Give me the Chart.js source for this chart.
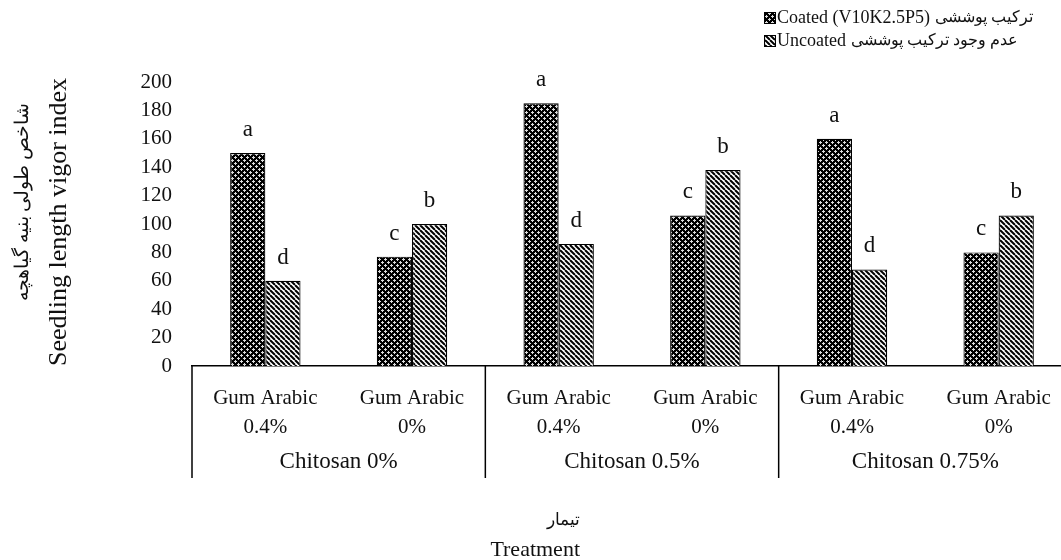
<!DOCTYPE html>
<html>
<head>
    <meta charset="utf-8">
    <title>Seedling length vigor index</title>
    <script src="https://cdn.jsdelivr.net/npm/chart.js"></script>
    <style>
        html, body {
            margin: 0;
            padding: 0;
            background: #fff;
            overflow: hidden;
        }
        .chart-container {
            position: relative;
            width: 1080px;
            height: 560px;
        }
    </style>
</head>
<body>
    <div class="chart-container">
        <canvas id="vigorChart"></canvas>
    </div>

    <script>
        // data
        const categories = [
            ['Gum Arabic', '0.4%'], ['Gum Arabic', '0%'],
            ['Gum Arabic', '0.4%'], ['Gum Arabic', '0%'],
            ['Gum Arabic', '0.4%'], ['Gum Arabic', '0%']
        ];
        const groups = ['Chitosan 0%', 'Chitosan 0.5%', 'Chitosan 0.75%'];
        const coatedValues = [150, 77, 185, 106, 160, 80];
        const uncoatedValues = [60, 100, 86, 138, 68, 106];
        const coatedLetters = ['a', 'c', 'a', 'c', 'a', 'c'];
        const uncoatedLetters = ['d', 'b', 'd', 'b', 'd', 'b'];
        const yMin = 0, yMax = 200, yStep = 20;

        const coatedLabel = ['Coated (V10K2.5P5)', 'ترکیب پوششی'];
        const uncoatedLabel = ['Uncoated', 'عدم وجود ترکیب پوششی'];
        const yTitle = ['شاخص طولی بنیه گیاهچه', 'Seedling length vigor index'];
        const xTitle = ['تیمار', 'Treatment'];

        const FONT = '"Liberation Serif", "Times New Roman", serif';
        const INK = '#111';

        // fill patterns
        function dotPattern() {
            const c = document.createElement('canvas');
            c.width = 6; c.height = 6;
            const g = c.getContext('2d');
            g.fillStyle = '#000';
            g.fillRect(0, 0, 6, 6);
            g.fillStyle = '#ddd';
            [[1, 1], [4, 4]].forEach(([cx, cy]) => {
                g.fillRect(cx - 1, cy, 3, 1);
                g.fillRect(cx, cy - 1, 1, 3);
            });
            return g.createPattern(c, 'repeat');
        }
        function stripePattern() {
            const c = document.createElement('canvas');
            c.width = 5; c.height = 5;
            const g = c.getContext('2d');
            g.fillStyle = '#fff';
            g.fillRect(0, 0, 5, 5);
            g.strokeStyle = '#000';
            g.lineWidth = 2;
            [-5, 0, 5].forEach(o => {
                g.beginPath();
                g.moveTo(o, 0);
                g.lineTo(o + 5, 5);
                g.stroke();
            });
            return g.createPattern(c, 'repeat');
        }
        const coatedFill = dotPattern();
        const uncoatedFill = stripePattern();

        // letters, group axis, titles, legend
        const decorPlugin = {
            id: 'decor',
            afterDatasetsDraw(chart) {
                const { ctx, chartArea, scales: { x } } = chart;
                ctx.save();
                ctx.fillStyle = INK;

                // significance letters
                ctx.font = '23px ' + FONT;
                ctx.textAlign = 'center';
                ctx.textBaseline = 'alphabetic';
                [coatedLetters, uncoatedLetters].forEach((letters, di) => {
                    chart.getDatasetMeta(di).data.forEach((bar, i) => {
                        ctx.fillText(letters[i], bar.x, bar.y - 17);
                    });
                });

                // group separators
                const px = i => x.getPixelForValue(i);
                const step = px(1) - px(0);
                ctx.strokeStyle = '#000';
                ctx.lineWidth = 1.5;
                for (let g = 0; g <= groups.length; g++) {
                    const bx = px(g * 2) - step / 2;
                    ctx.beginPath();
                    ctx.moveTo(bx, chartArea.bottom);
                    ctx.lineTo(bx, 478);
                    ctx.stroke();
                }

                // group labels
                ctx.font = '23px ' + FONT;
                ctx.textBaseline = 'middle';
                groups.forEach((name, g) => {
                    ctx.fillText(name, (px(g * 2) + px(g * 2 + 1)) / 2, 462);
                });

                // x title
                ctx.textAlign = 'right';
                ctx.font = '17px ' + FONT;
                ctx.fillText(xTitle[0], 580, 521);
                ctx.font = '22px ' + FONT;
                ctx.fillText(xTitle[1], 580, 550);

                // y title
                ctx.textAlign = 'center';
                ctx.font = '19px ' + FONT;
                ctx.save();
                ctx.translate(23, 202);
                ctx.rotate(-Math.PI / 2);
                ctx.fillText(yTitle[0], 0, 0);
                ctx.restore();
                ctx.font = '26px ' + FONT;
                ctx.save();
                ctx.translate(59, 222);
                ctx.rotate(-Math.PI / 2);
                ctx.fillText(yTitle[1], 0, 0);
                ctx.restore();

                // legend
                const rows = [[coatedFill, coatedLabel, 18], [uncoatedFill, uncoatedLabel, 41]];
                ctx.textAlign = 'left';
                rows.forEach(([fill, label, ry]) => {
                    ctx.fillStyle = fill;
                    ctx.fillRect(764, ry - 6, 12, 12);
                    ctx.strokeStyle = '#000';
                    ctx.lineWidth = 1;
                    ctx.strokeRect(764.5, ry - 5.5, 11, 11);
                    ctx.fillStyle = INK;
                    ctx.font = '18px ' + FONT;
                    ctx.fillText(label[0], 777, ry);
                    const w = ctx.measureText(label[0]).width;
                    ctx.font = '15.5px ' + FONT;
                    ctx.fillText(label[1], 777 + w + 5, ry);
                });

                ctx.restore();
            }
        };

        const ctx = document.getElementById('vigorChart').getContext('2d');
        new Chart(ctx, {
            type: 'bar',
            data: {
                labels: categories,
                datasets: [{
                    label: coatedLabel.join(' '),
                    data: coatedValues,
                    backgroundColor: coatedFill,
                    borderColor: '#000',
                    borderWidth: 1.2
                }, {
                    label: uncoatedLabel.join(' '),
                    data: uncoatedValues,
                    backgroundColor: uncoatedFill,
                    borderColor: '#000',
                    borderWidth: 1.2
                }]
            },
            options: {
                responsive: true,
                maintainAspectRatio: false,
                animation: false,
                layout: { padding: { top: 82, right: 8, left: 0, bottom: 0 } },
                datasets: {
                    bar: { categoryPercentage: 0.48, barPercentage: 1 }
                },
                plugins: {
                    legend: { display: false },
                    tooltip: { enabled: false }
                },
                scales: {
                    x: {
                        grid: { display: false },
                        border: { display: true, color: '#000', width: 1.5 },
                        ticks: {
                            color: INK,
                            font: { family: FONT, size: 21, lineHeight: 1.38 },
                            padding: 10,
                            maxRotation: 0,
                            autoSkip: false
                        },
                        afterFit: s => { s.height = 194; }
                    },
                    y: {
                        min: yMin,
                        max: yMax,
                        grid: { display: false },
                        border: { display: false },
                        ticks: {
                            stepSize: yStep,
                            autoSkip: false,
                            color: INK,
                            font: { family: FONT, size: 21 },
                            padding: 12
                        },
                        afterFit: s => { s.width = 192; }
                    }
                }
            },
            plugins: [decorPlugin]
        });
    </script>
</body>
</html>
